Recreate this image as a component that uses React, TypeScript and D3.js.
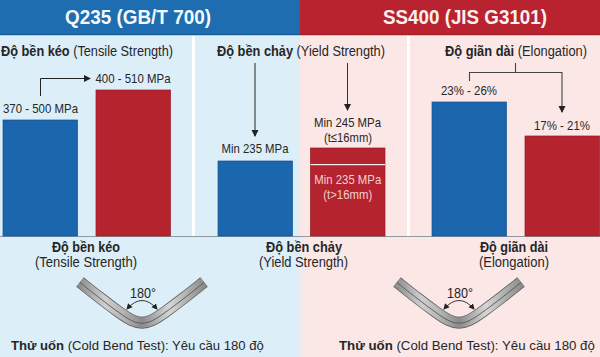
import React from "react";
import * as d3 from "d3";

const W = 600, H = 357;
const headers = ["Q235 (GB/T 700)", "SS400 (JIS G3101)"];
const barKeys = ["t1", "t2", "y1", "y2", "e1", "e2"];
const barLevels = [116, 146, 75, 88, 134, 100]; // bar heights on the poster's un-numbered scale
const barColors = ["#1b66ad", "#b5232e", "#1b66ad", "#b5232e", "#1b66ad", "#b5232e"];
const subLevel = 72; // Min 235 MPa divider within the SS400 yield bar
const barLabels = [["370 - 500 MPa"], ["400 - 510 MPa"], ["Min 235 MPa"], ["Min 245 MPa", "(t≤16mm)"], ["23% - 26%"], ["17% - 21%"]];

const y = d3.scaleLinear().domain([0, 236]).range([236, 0]);
const x = d3.scaleOrdinal<string, number>().domain(barKeys).range([3, 96, 218, 310.5, 432, 525]);
const barW = 74.5;
const font = "'Liberation Sans', Arial, sans-serif";
const line = d3.line<[number, number]>();
const curved = d3.line<[number, number]>().curve(d3.curveBasis);

function Txt({ x, y, size = 14, anchor = "middle", fill = "#262626", weight, len, children }: any) {
  return <text x={x} y={y} fontSize={size} textAnchor={anchor} fill={fill} fontWeight={weight} fontFamily={font} textLength={len} lengthAdjust={len ? "spacingAndGlyphs" : undefined}>{children}</text>;
}

function Bend({ cx, id }: { cx: number; id: string }) {
  const pts: [number, number][] = [[cx - 62, 282], [cx - 42, 298], [cx - 22, 313], [cx - 10, 321], [cx, 323.5], [cx + 10, 321], [cx + 22, 313], [cx + 42, 298], [cx + 62, 282]];
  const d = curved(pts) as string;
  const arc = d3.path();
  arc.moveTo(cx - 15, 309);
  arc.quadraticCurveTo(cx, 292, cx + 15, 309);
  return (
    <g>
      <path d={d} fill="none" stroke="#5d5d5d" strokeWidth={12} />
      <path d={d} fill="none" stroke={`url(#${id})`} strokeWidth={10.5} />
      <path d={d} fill="none" stroke="#555" strokeWidth={0.9} transform="translate(0,0.5)" />
      <path d={arc.toString()} fill="none" stroke="#222" strokeWidth={0.9} markerStart="url(#headS)" markerEnd="url(#headE)" />
      <Txt x={cx + 1} y={298} size={14} len={26}>180°</Txt>
    </g>
  );
}

export default function App() {
  return (
    <svg width={W} height={H} viewBox={`0 0 ${W} ${H}`} style={{ position: "absolute", left: 0, top: 0, display: "block" }}>
      <defs>
        <linearGradient id="seam" x1="0" x2="1" y1="0" y2="0">
          <stop offset="0" stopColor="#dceef8" />
          <stop offset="1" stopColor="#fbe7e6" />
        </linearGradient>
        {["steelA", "steelB"].map((id) => (
          <linearGradient key={id} id={id} x1="0" x2="1" y1="0" y2="0">
            <stop offset="0" stopColor="#8f8f8f" />
            <stop offset="0.2" stopColor="#cfcfcf" />
            <stop offset="0.35" stopColor="#b4b4b4" />
            <stop offset="0.5" stopColor="#8a8a8a" />
            <stop offset="0.72" stopColor="#d6d6d6" />
            <stop offset="1" stopColor="#8c8c8c" />
          </linearGradient>
        ))}
        <marker id="head" markerUnits="userSpaceOnUse" markerWidth={8} markerHeight={8} refX={6} refY={3.5} orient="auto">
          <path d="M0,0 L7,3.5 L0,7 Z" fill="#222" />
        </marker>
        <marker id="headE" markerUnits="userSpaceOnUse" markerWidth={7} markerHeight={7} refX={5} refY={3} orient="auto">
          <path d="M0,0 L6,3 L0,6 Z" fill="#222" />
        </marker>
        <marker id="headS" markerUnits="userSpaceOnUse" markerWidth={7} markerHeight={7} refX={1} refY={3} orient="auto">
          <path d="M6,0 L0,3 L6,6 Z" fill="#222" />
        </marker>
      </defs>

      <rect x={0} y={0} width={300} height={H} fill="#dceef8" />
      <rect x={300} y={0} width={300} height={H} fill="#fbe7e6" />
      <rect x={296} y={237} width={10} height={120} fill="url(#seam)" />
      <rect x={0} y={0} width={300} height={34} fill="#1d6db0" />
      <rect x={300} y={0} width={300} height={34} fill="#b9232f" />
      <rect x={0} y={34} width={300} height={1.2} fill="#155a94" />
      <rect x={300} y={34} width={300} height={1.2} fill="#9c1d27" />
      <rect x={192} y={36} width={3} height={200} fill="#ffffff" />
      <rect x={407} y={36} width={3} height={200} fill="#ffffff" />
      <rect x={0} y={236} width={W} height={1} fill="#8d9aa3" />

      <Txt x={138} y={24} size={20.5} fill="#f4f8fb" weight="700" len={146}>{headers[0]}</Txt>
      <Txt x={465} y={24} size={20.5} fill="#f9f1f1" weight="700" len={164}>{headers[1]}</Txt>

      <Txt x={1} y={56} anchor="start" len={172}><tspan fontWeight="700">Độ bền kéo</tspan> (Tensile Strength)</Txt>
      <Txt x={217} y={56} anchor="start" len={168}><tspan fontWeight="700">Độ bền chảy</tspan> (Yield Strength)</Txt>
      <Txt x={445} y={56} anchor="start" len={142}><tspan fontWeight="700">Độ giãn dài</tspan> (Elongation)</Txt>

      {barKeys.map((k, i) => (
        <rect key={k} x={x(k)} y={y(barLevels[i])} width={barW} height={y(0) - y(barLevels[i])} fill={barColors[i]} stroke={d3.color(barColors[i])!.darker(0.6).formatHex()} strokeWidth={0.7} />
      ))}
      <rect x={x("y2")} y={y(subLevel)} width={barW} height={1.2} fill="#fbeeee" />
      <Txt x={x("y2") + barW / 2} y={184} size={13.5} fill="#f0cfd0" len={67}>Min 235 MPa</Txt>
      <Txt x={x("y2") + barW / 2} y={199} size={13.5} fill="#f0cfd0" len={49}>(t&gt;16mm)</Txt>

      <Txt x={40.5} y={113} size={13.5} len={75}>{barLabels[0][0]}</Txt>
      <Txt x={133} y={83} size={13.5} len={75}>{barLabels[1][0]}</Txt>
      <Txt x={255} y={153} size={13.5} len={67}>{barLabels[2][0]}</Txt>
      <Txt x={347.5} y={127} size={13.5} len={67}>{barLabels[3][0]}</Txt>
      <Txt x={348} y={142} size={13.5} len={48}>{barLabels[3][1]}</Txt>
      <Txt x={469} y={95} size={13.5} len={56}>{barLabels[4][0]}</Txt>
      <Txt x={562} y={130} size={13.5} len={56}>{barLabels[5][0]}</Txt>

      <path d={line([[40.5, 96], [40.5, 78.5], [90, 78.5]]) as string} fill="none" stroke="#222" strokeWidth={1} markerEnd="url(#head)" />
      <path d={line([[255, 63], [255, 136]]) as string} fill="none" stroke="#444" strokeWidth={1.2} markerEnd="url(#head)" />
      <path d={line([[347.5, 63], [347.5, 110]]) as string} fill="none" stroke="#333" strokeWidth={1} markerEnd="url(#head)" />
      <path d={line([[469.5, 81], [469.5, 72.5], [562, 72.5], [562, 112]]) as string} fill="none" stroke="#444" strokeWidth={1.1} markerEnd="url(#head)" />
      <path d={line([[515.5, 63], [515.5, 72.5]]) as string} fill="none" stroke="#444" strokeWidth={1.1} />

      <Txt x={86} y={252} weight="700" len={68}>Độ bền kéo</Txt>
      <Txt x={86} y={267} len={102}>(Tensile Strength)</Txt>
      <Txt x={304} y={252} weight="700" len={76}>Độ bền chảy</Txt>
      <Txt x={303.5} y={267} len={89}>(Yield Strength)</Txt>
      <Txt x={514} y={252} weight="700" len={68}>Độ giãn dài</Txt>
      <Txt x={514} y={267} len={70}>(Elongation)</Txt>

      <Bend cx={142} id="steelA" />
      <Bend cx={459} id="steelB" />

      <Txt x={11} y={350} size={13.1} anchor="start"><tspan fontWeight="700">Thử uốn</tspan> (Cold Bend Test): Yêu cầu 180 độ</Txt>
      <Txt x={339} y={350} size={13.25} anchor="start"><tspan fontWeight="700">Thử uốn</tspan> (Cold Bend Test): Yêu cầu 180 độ</Txt>
    </svg>
  );
}
